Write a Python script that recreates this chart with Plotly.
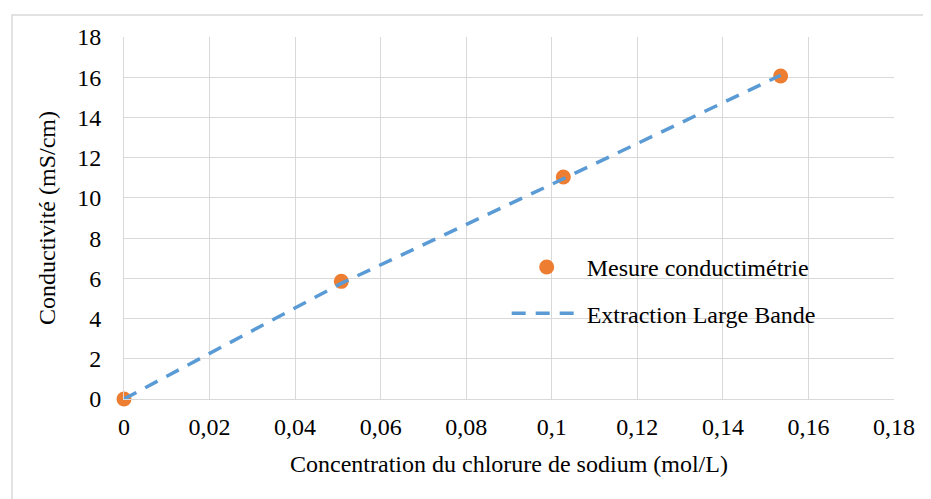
import plotly.graph_objects as go

concentration = [0.0, 0.0508, 0.1027, 0.1535]
conductivite_mesure = [0.0, 5.85, 11.04, 16.06]
conductivite_extraction = [0.0, 5.75, 10.95, 16.1]
x_ticks = [0, 0.02, 0.04, 0.06, 0.08, 0.1, 0.12, 0.14, 0.16, 0.18]
y_ticks = [0, 2, 4, 6, 8, 10, 12, 14, 16, 18]

FONT = "Times New Roman, Liberation Serif, serif"
GRID = "#D9D9D9"
FS = 24

fig = go.Figure()
fig.add_trace(go.Scatter(
    x=concentration, y=conductivite_mesure, mode="markers",
    name="Mesure conductimétrie", legendgroup="a", legendrank=1,
    marker=dict(color="#ED7D31", size=15), cliponaxis=False,
))
fig.add_trace(go.Scatter(
    x=concentration, y=conductivite_extraction, mode="lines",
    name="Extraction Large Bande", legendgroup="b", legendrank=2,
    line=dict(color="#5B9BD5", width=3.5, dash="14px,10px"),
))

fig.update_layout(
    width=923, height=491,
    margin=dict(l=116, r=37, t=29, b=100),
    paper_bgcolor="white", plot_bgcolor="white",
    separators=", ",
    font=dict(family=FONT, size=FS, color="black"),
    showlegend=True,
    legend=dict(
        x=0.497, y=0.30, xanchor="left", yanchor="middle",
        bgcolor="rgba(0,0,0,0)", traceorder="grouped",
        tracegroupgap=12, itemwidth=70,
        font=dict(family=FONT, size=FS, color="black"),
    ),
    xaxis=dict(
        range=[0, 0.18], tickvals=x_ticks, showgrid=True, gridcolor=GRID,
        gridwidth=1, showline=True, linecolor=GRID, linewidth=1, zeroline=False,
        ticks="", tickfont=dict(family=FONT, size=FS, color="black"), ticklabelstandoff=6,
        title=dict(text="Concentration du chlorure de sodium (mol/L)",
                   font=dict(family=FONT, size=FS, color="black"), standoff=16),
    ),
    yaxis=dict(
        range=[0, 18], tickvals=y_ticks, showgrid=True, gridcolor=GRID,
        gridwidth=1, showline=True, linecolor=GRID, linewidth=1, zeroline=False,
        ticks="", tickfont=dict(family=FONT, size=FS, color="black"), ticklabelstandoff=17,
        title=dict(text="Conductivité (mS/cm)",
                   font=dict(family=FONT, size=FS, color="black"), standoff=14),
    ),
    shapes=[dict(
        type="rect", xref="paper", yref="paper",
        x0=-0.1455, x1=1.08, y0=-0.35, y1=1.0608,
        line=dict(color="#D9D9D9", width=1.5), fillcolor="rgba(0,0,0,0)", layer="below",
    )],
)

fig.write_html("out.html")
